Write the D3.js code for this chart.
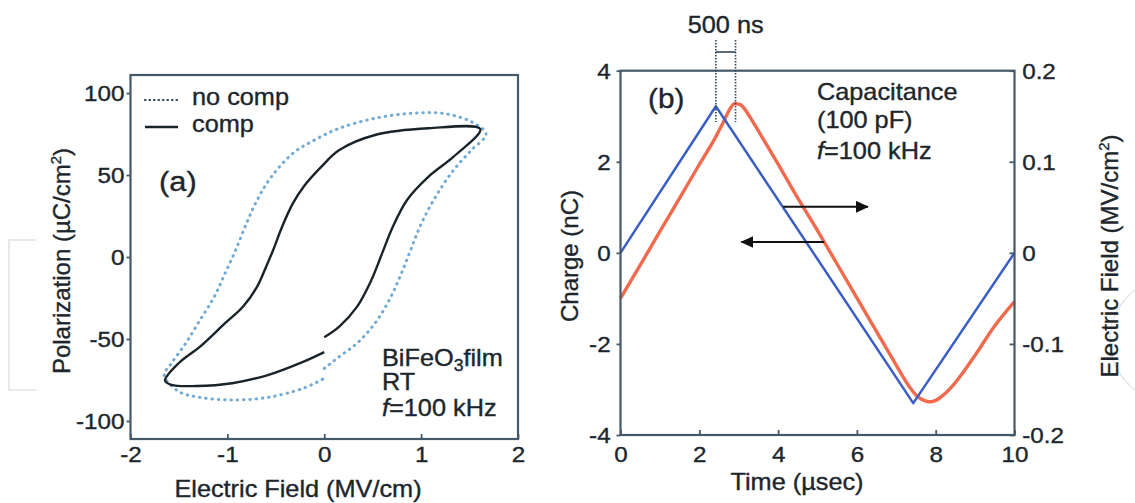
<!DOCTYPE html>
<html>
<head>
<meta charset="utf-8">
<script src="https://cdn.jsdelivr.net/npm/d3@7"></script>
<style>
  body { margin: 0; background: #fff; }
  svg { display: block; }
</style>
</head>
<body>
<script>
// ---- data ----
// panel (a): hysteresis loops, E in MV/cm, P in uC/cm2
const compE = [0, 0.155, 0.339, 0.487, 0.597, 0.708, 0.855, 1.077, 1.335, 1.611,
  1.077, 0.524, 0.155, -0.029, -0.213, -0.324, -0.435, -0.527, -0.6, -0.693, -0.84, -1.024, -1.282, -1.503, -1.643,
  -1.577, -1.319, -0.951, -0.582, -0.213, 0];
const compP = [-49, -42.5, -30.3, -14, 2.2, 18.5, 34.8, 49, 61.2, 78,
  78.5, 74.4, 65.2, 55.1, 42.9, 32.7, 18.5, 4.3, -5.9, -18.1, -30.3, -40.4, -54.7, -64.8, -75.4,
  -78, -78.7, -77, -72, -63.8, -58];
const noCompE = [0, 0.155, 0.339, 0.524, 0.671, 0.782, 0.892, 1.003, 1.15, 1.335, 1.519, 1.67,
  1.519, 1.224, 0.892, 0.524, 0.155, -0.103, -0.324, -0.545, -0.692, -0.803, -0.914, -1.024, -1.135, -1.282, -1.43, -1.577, -1.652,
  -1.503, -1.282, -0.951, -0.582, -0.213, 0];
const noCompP = [-68, -60.8, -52.6, -40.4, -26.2, -12, 4.3, 20.5, 36.8, 53, 65.2, 75,
  82.5, 87.6, 87.6, 84.6, 78.5, 71.3, 63.2, 49, 34.8, 20.5, 4.3, -10, -24.2, -38.4, -52.6, -64.8, -72,
  -82, -85.6, -87.2, -85.6, -80, -74];

// panel (b): charge (nC, left axis) and electric field (MV/cm2, right axis) vs time (usec)
const chargeTime = [0, 0.5, 1.0, 1.5, 2.0, 2.4, 2.6, 2.75, 2.9, 3.05, 3.2, 3.4, 3.6, 4.0, 4.5, 5.0, 5.5,
  6.0, 6.5, 7.0, 7.3, 7.5, 7.7, 7.86, 8.0, 8.2, 8.4, 8.7, 9.0, 9.5, 10.0];
const chargeValue = [-1.0, -0.27, 0.47, 1.2, 1.94, 2.52, 2.85, 3.12, 3.28, 3.25, 3.1, 2.82, 2.53, 1.95, 1.2, 0.49, -0.25,
  -0.99, -1.73, -2.47, -2.9, -3.12, -3.24, -3.27, -3.24, -3.12, -2.95, -2.62, -2.25, -1.6, -1.07];
const fieldTime = [0, 2.42, 7.43, 10];
const fieldValue = [0, 0.161, -0.165, 0];
const markerTimes = [2.42, 2.92];        // 500 ns bracket
const arrows = [                          // [t0, q0, t1, q1] in charge units
  [4.13, 1.01, 6.28, 1.01],
  [5.17, 0.24, 3.07, 0.24]
];

const ticksA_x = [-2, -1, 0, 1, 2];
const ticksA_y = [-100, -50, 0, 50, 100];
const ticksB_x = [0, 2, 4, 6, 8, 10];
const ticksB_y = [-4, -2, 0, 2, 4];
const ticksB_y2 = [-0.2, -0.1, 0, 0.1, 0.2];

// ---- setup ----
const W = 1135, H = 503;
const ink = '#1c262c';
const frameColor = '#44596a';
const font = '"Liberation Sans", Arial, Helvetica, sans-serif';
const SX = 1.1;
const plain = d => String(d);   // hyphen minus, like the original

const svg = d3.select('body').append('svg')
  .attr('width', W).attr('height', H)
  .style('font-family', font);

svg.append('rect').attr('width', W).attr('height', H).attr('fill', '#fff');

// faint watermark remnants
svg.append('path').attr('d', 'M36,240 L9,240 L9,390 L36,390')
  .attr('fill', 'none').attr('stroke', '#e2e2e2').attr('stroke-width', 1.5);
svg.append('path').attr('d', d3.arc()({innerRadius: 62, outerRadius: 62, startAngle: -Math.PI * 0.95, endAngle: -Math.PI * 0.05}))
  .attr('transform', 'translate(1172,340)')
  .attr('fill', 'none').attr('stroke', '#e6e6e6').attr('stroke-width', 1.5);

const defs = svg.append('defs');
defs.append('marker')
  .attr('id', 'head')
  .attr('markerUnits', 'userSpaceOnUse')
  .attr('markerWidth', 14).attr('markerHeight', 12)
  .attr('refX', 12).attr('refY', 6)
  .attr('orient', 'auto')
  .append('path').attr('d', 'M0,0 L13,6 L0,12 z').attr('fill', '#111');

const addText = (x, y, str, size, anchor) =>
  svg.append('text')
    .attr('transform', `translate(${x},${y}) scale(${SX},1)`)
    .attr('font-size', size)
    .attr('text-anchor', anchor || 'start')
    .attr('fill', ink)
    .attr('stroke', ink).attr('stroke-width', 0.35)
    .text(str);

const addVText = (x, y, size) =>
  svg.append('text')
    .attr('transform', `translate(${x},${y}) rotate(-90)`)
    .attr('font-size', size)
    .attr('text-anchor', 'middle')
    .attr('fill', ink)
    .attr('stroke', ink).attr('stroke-width', 0.35);

const styleAxis = (g, textY, textX, anchor) => {
  g.select('.domain').remove();
  g.selectAll('.tick line').attr('stroke', frameColor).attr('stroke-width', 1.8);
  const t = g.selectAll('.tick text')
    .attr('font-size', 22)
    .attr('font-family', font)
    .attr('fill', ink)
    .attr('stroke', ink).attr('stroke-width', 0.35)
    .attr('transform', `scale(${SX},1)`);
  if (textY !== null) t.attr('y', textY).attr('dy', 0);
  if (textX !== null) t.attr('x', textX).attr('dy', '0.36em').attr('text-anchor', anchor);
};

// ---- panel (a) ----
const xA = d3.scaleLinear().domain([-2, 2]).range([130.5, 518]);
const yA = d3.scaleLinear().domain([-111, 111]).range([439, 75]);

svg.append('g').attr('transform', `translate(0,${yA.range()[0]})`)
  .call(d3.axisBottom(xA).tickValues(ticksA_x).tickSize(-5).tickFormat(plain))
  .call(g => styleAxis(g, 23, null));
svg.append('g').attr('transform', `translate(${xA.range()[0]},0)`)
  .call(d3.axisLeft(yA).tickValues(ticksA_y).tickSize(4).tickFormat(plain))
  .call(g => styleAxis(g, null, -5.5, 'end'));

const loopLine = d3.line()
  .x(d => xA(d[0])).y(d => yA(d[1]))
  .curve(d3.curveCatmullRom.alpha(0.5));

svg.append('path')
  .datum(noCompE.map((e, i) => [e, noCompP[i]]))
  .attr('d', loopLine)
  .attr('fill', 'none')
  .attr('stroke', '#72aad4')
  .attr('stroke-width', 3)
  .attr('stroke-linecap', 'round')
  .attr('stroke-dasharray', '0.5 5.8');

svg.append('path')
  .datum(compE.map((e, i) => [e, compP[i]]))
  .attr('d', loopLine)
  .attr('fill', 'none')
  .attr('stroke', '#18232a')
  .attr('stroke-width', 2.4);

svg.append('rect')
  .attr('x', xA.range()[0]).attr('y', yA.range()[1])
  .attr('width', xA.range()[1] - xA.range()[0])
  .attr('height', yA.range()[0] - yA.range()[1])
  .attr('fill', 'none').attr('stroke', frameColor).attr('stroke-width', 2.2);

// legend
svg.append('line').attr('x1', 145).attr('x2', 177).attr('y1', 100).attr('y2', 100)
  .attr('stroke', '#2e4454').attr('stroke-width', 2.2)
  .attr('stroke-linecap', 'round').attr('stroke-dasharray', '0.5 4');
svg.append('line').attr('x1', 145).attr('x2', 178).attr('y1', 127).attr('y2', 127)
  .attr('stroke', '#18232a').attr('stroke-width', 2.4);
addText(192, 105, 'no comp', 23);
addText(192, 132, 'comp', 23);

addText(159, 191, '(a)', 28);

const bfo = addText(382, 366, 'BiFeO', 23);
bfo.append('tspan').attr('font-size', 16).attr('dy', 5).text('3');
bfo.append('tspan').attr('dy', -5).text('film');
addText(382, 390, 'RT', 23);
const fa = addText(382, 416, '', 23);
fa.append('tspan').attr('font-style', 'italic').text('f');
fa.append('tspan').text('=100 kHz');

addText(298, 497, 'Electric Field (MV/cm)', 23, 'middle');
const ta = addVText(70, 261, 24);
ta.append('tspan').text('Polarization (µC/cm');
ta.append('tspan').attr('font-size', 15).attr('dy', -9).text('2');
ta.append('tspan').attr('dy', 9).text(')');

// ---- panel (b) ----
const xB = d3.scaleLinear().domain([0, 10]).range([620.5, 1014.5]);
const yB = d3.scaleLinear().domain([-4, 4]).range([435, 70.7]);
const yB2 = d3.scaleLinear().domain([-0.2, 0.2]).range([435, 70.7]);

svg.append('g').attr('transform', `translate(0,${yB.range()[0]})`)
  .call(d3.axisBottom(xB).tickValues(ticksB_x).tickSize(-5).tickFormat(plain))
  .call(g => styleAxis(g, 27, null));
svg.append('g').attr('transform', `translate(${xB.range()[0]},0)`)
  .call(d3.axisLeft(yB).tickValues(ticksB_y).tickSize(4).tickFormat(plain))
  .call(g => styleAxis(g, null, -9, 'end'));
svg.append('g').attr('transform', `translate(${xB.range()[1]},0)`)
  .call(d3.axisRight(yB2).tickValues(ticksB_y2).tickSize(-5).tickFormat(plain))
  .call(g => styleAxis(g, null, 7, 'start'));

svg.append('path')
  .datum(chargeTime.map((t, i) => [t, chargeValue[i]]))
  .attr('d', d3.line().x(d => xB(d[0])).y(d => yB(d[1])).curve(d3.curveMonotoneX))
  .attr('fill', 'none')
  .attr('stroke', '#f26a4e')
  .attr('stroke-width', 3.4)
  .attr('stroke-linejoin', 'round');

svg.append('path')
  .datum(fieldTime.map((t, i) => [t, fieldValue[i]]))
  .attr('d', d3.line().x(d => xB(d[0])).y(d => yB2(d[1])))
  .attr('fill', 'none')
  .attr('stroke', '#3a5ec6')
  .attr('stroke-width', 2.5)
  .attr('stroke-linejoin', 'round');

svg.append('rect')
  .attr('x', xB.range()[0]).attr('y', yB.range()[1])
  .attr('width', xB.range()[1] - xB.range()[0])
  .attr('height', yB.range()[0] - yB.range()[1])
  .attr('fill', 'none').attr('stroke', frameColor).attr('stroke-width', 2.2);

// 500 ns bracket
svg.selectAll('.mark').data(markerTimes).join('line')
  .attr('class', 'mark')
  .attr('x1', d => xB(d)).attr('x2', d => xB(d))
  .attr('y1', 40).attr('y2', 122)
  .attr('stroke', '#2e4454').attr('stroke-width', 1.6)
  .attr('stroke-dasharray', '1.5 1.5');
svg.append('line')
  .attr('x1', xB(markerTimes[0])).attr('x2', xB(markerTimes[1]))
  .attr('y1', 52).attr('y2', 52)
  .attr('stroke', '#2e4454').attr('stroke-width', 1.6);
addText((xB(markerTimes[0]) + xB(markerTimes[1])) / 2, 33, '500 ns', 23, 'middle');

// arrows
svg.selectAll('.arrow').data(arrows).join('line')
  .attr('class', 'arrow')
  .attr('x1', d => xB(d[0])).attr('y1', d => yB(d[1]))
  .attr('x2', d => xB(d[2])).attr('y2', d => yB(d[3]))
  .attr('stroke', '#111').attr('stroke-width', 2)
  .attr('marker-end', 'url(#head)');

addText(648, 108, '(b)', 27);
addText(817, 100, 'Capacitance', 23);
addText(817, 128, '(100 pF)', 23);
const fb = addText(817, 159, '', 23);
fb.append('tspan').attr('font-style', 'italic').text('f');
fb.append('tspan').text('=100 kHz');

addText(797, 490, 'Time (µsec)', 23, 'middle');
addVText(578, 256, 24).text('Charge (nC)');
const tb = addVText(1118, 256, 24);
tb.append('tspan').text('Electric Field (MV/cm');
tb.append('tspan').attr('font-size', 15).attr('dy', -9).text('2');
tb.append('tspan').attr('dy', 9).text(')');
</script>
</body>
</html>
